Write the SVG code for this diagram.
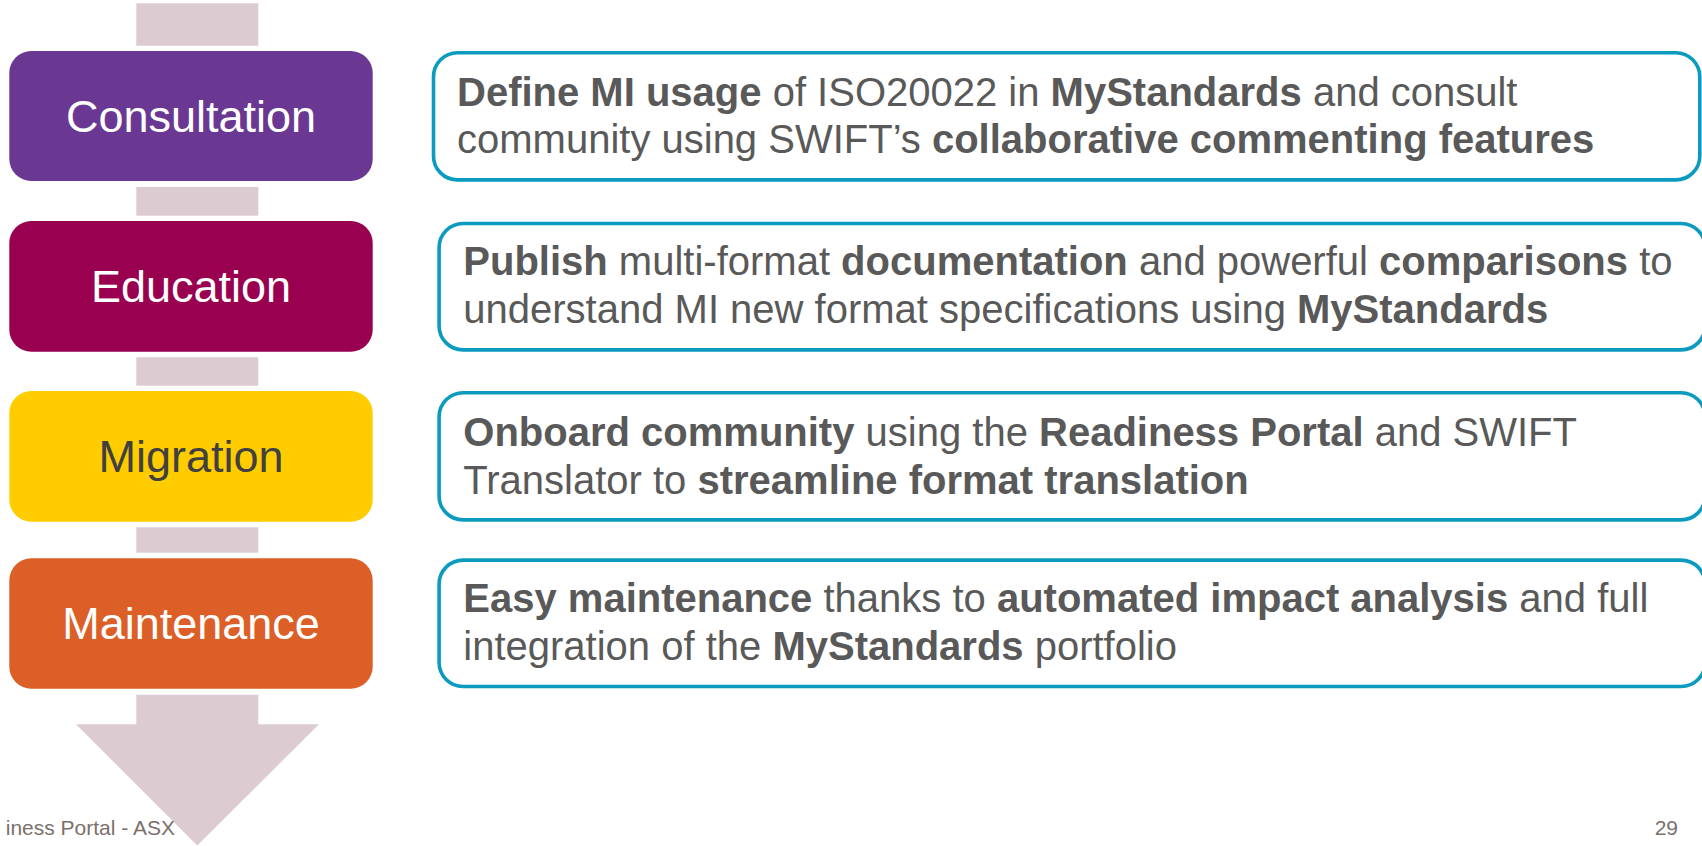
<svg xmlns="http://www.w3.org/2000/svg" width="1702" height="846" viewBox="0 0 1702 846">
<style>
.bar{fill:#DDCBD2}
.stage{font-family:"Liberation Sans",Arial,sans-serif;font-size:45px;text-anchor:middle;fill:#FFFFFF}
.desc rect{fill:#FFFFFF;stroke:#0A9BBE;stroke-width:3.6}
.dt{font-family:"Liberation Sans",Arial,sans-serif;font-size:40px;fill:#595959}
.b{font-weight:bold}
.foot{font-family:"Liberation Sans",Arial,sans-serif;font-size:21px;fill:#7A706B}
</style>
<rect width="1702" height="846" fill="#FFFFFF"/>
<g id="connectors">
<rect class="bar" x="136.3" y="3.3" width="122" height="42.4"/>
<rect class="bar" x="136.3" y="187" width="122" height="28.7"/>
<rect class="bar" x="136.3" y="357.3" width="122" height="28.4"/>
<rect class="bar" x="136.3" y="527.3" width="122" height="25.4"/>
<polygon class="bar" points="136.3,694.7 258.3,694.7 258.3,724.3 319,724.3 197.3,845.5 76,724.3 136.3,724.3"/>
</g>
<g id="node-consultation">
<rect x="9.3" y="51" width="363.4" height="130" rx="22" fill="#6A3893"/>
<text class="stage" x="191" y="132">Consultation</text>
</g>
<g id="node-education">
<rect x="9.3" y="221" width="363.4" height="130.7" rx="22" fill="#990050"/>
<text class="stage" x="191" y="302">Education</text>
</g>
<g id="node-migration">
<rect x="9.3" y="391" width="363.4" height="130.7" rx="22" fill="#FFCC00"/>
<text class="stage" x="191" y="472" style="fill:#404040">Migration</text>
</g>
<g id="node-maintenance">
<rect x="9.3" y="558.3" width="363.4" height="130.4" rx="22" fill="#DC5F27"/>
<text class="stage" x="191" y="639">Maintenance</text>
</g>
<g id="desc-consultation" class="desc">
<rect x="433.5" y="52.8" width="1266.3" height="127.1" rx="24"/>
<text class="dt" x="457" y="106"><tspan class="b">Define MI usage</tspan> of ISO20022 in <tspan class="b">MyStandards</tspan> and consult</text>
<text class="dt" x="457" y="153.3">community using SWIFT’s <tspan class="b">collaborative commenting features</tspan></text>
</g>
<g id="desc-education" class="desc">
<rect x="439.1" y="223.5" width="1266" height="126.4" rx="24"/>
<text class="dt" x="463.3" y="275"><tspan class="b">Publish</tspan> multi-format <tspan class="b">documentation</tspan> and powerful <tspan class="b">comparisons</tspan> to</text>
<text class="dt" x="463.3" y="323.3">understand MI new format specifications using <tspan class="b">MyStandards</tspan></text>
</g>
<g id="desc-migration" class="desc">
<rect x="439.1" y="392.8" width="1266" height="127.1" rx="24"/>
<text class="dt" x="463.3" y="446"><tspan class="b">Onboard community</tspan> using the <tspan class="b">Readiness Portal</tspan> and SWIFT</text>
<text class="dt" x="463.3" y="494.3">Translator to <tspan class="b">streamline format translation</tspan></text>
</g>
<g id="desc-maintenance" class="desc">
<rect x="439.1" y="560.1" width="1266" height="126.4" rx="24"/>
<text class="dt" x="463.3" y="612.3"><tspan class="b">Easy maintenance</tspan> thanks to <tspan class="b">automated impact analysis</tspan> and full</text>
<text class="dt" x="463.3" y="660">integration of the <tspan class="b">MyStandards</tspan> portfolio</text>
</g>
<g id="footer">
<text class="foot" x="175" y="835" text-anchor="end">iness Portal - ASX</text>
<text class="foot" x="1678" y="835" text-anchor="end">29</text>
</g>
</svg>
